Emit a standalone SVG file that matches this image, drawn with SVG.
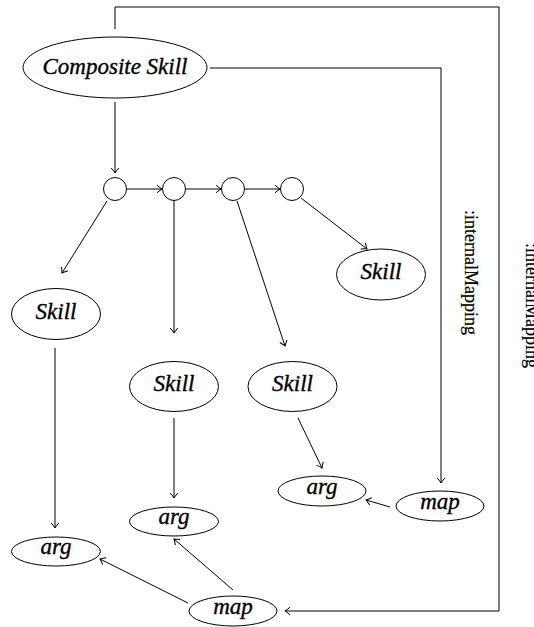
<svg xmlns="http://www.w3.org/2000/svg" width="534" height="627" viewBox="0 0 534 627">
  <style>
    .node { fill: #fff; stroke: #000; stroke-width: 1; }
    .lbl { font-family: "Liberation Serif", "Times New Roman", serif; font-style: italic; font-size: 23px; text-anchor: middle; fill: #000; stroke: #000; stroke-width: 0.35; }
    .edge { fill: none; stroke: #000; stroke-width: 1; marker-end: url(#to); }
    .side { font-family: "Liberation Serif", "Times New Roman", serif; font-size: 18px; fill: #000; stroke: #000; stroke-width: 0.2; }
  </style>
  <defs>
    <marker id="to" markerUnits="userSpaceOnUse" markerWidth="12" markerHeight="12" viewBox="-7 -6 8 12" refX="0" refY="0" orient="auto">
      <path d="M-5,-3.8 Q-1.6,-0.9 0,0 Q-1.6,0.9 -5,3.8" fill="none" stroke="#000" stroke-width="1"/>
    </marker>
  </defs>

  <!-- connectors -->
  <g id="connectors">
    <!-- composite skill to mapping nodes -->
    <polyline class="edge" points="115,29 115,7 499,7 499,611 285,611"/>
    <polyline class="edge" points="210,68 441,68 441,483"/>
    <line class="edge" x1="115" y1="102" x2="115" y2="173"/>
    <!-- sequence of steps -->
    <line class="edge" x1="127" y1="189" x2="162" y2="189"/>
    <line class="edge" x1="186" y1="189" x2="221" y2="189"/>
    <line class="edge" x1="245" y1="189" x2="280" y2="189"/>
    <!-- steps to skills -->
    <line class="edge" x1="107" y1="201" x2="62" y2="273"/>
    <line class="edge" x1="174" y1="201" x2="174" y2="333"/>
    <line class="edge" x1="237" y1="201" x2="285" y2="346"/>
    <line class="edge" x1="301" y1="198" x2="367" y2="249"/>
    <!-- skills to args -->
    <line class="edge" x1="55" y1="348" x2="55" y2="528"/>
    <line class="edge" x1="174" y1="418" x2="174" y2="498"/>
    <line class="edge" x1="298" y1="418" x2="322" y2="468"/>
    <!-- maps to args -->
    <line class="edge" x1="390" y1="507" x2="366" y2="500"/>
    <line class="edge" x1="188" y1="603" x2="100" y2="559"/>
    <line class="edge" x1="233" y1="590" x2="174" y2="539"/>
    <!-- edge labels -->
    <text class="side" transform="translate(465,210) rotate(90)">:internalMapping</text>
    <text class="side" transform="translate(526,243) rotate(90)">:internalMapping</text>
  </g>

  <g id="composite">
    <ellipse class="node" cx="115" cy="67.5" rx="92" ry="30.5"/>
    <text class="lbl" x="115" y="73.5">Composite Skill</text>
  </g>

  <g id="step1"><circle class="node" cx="115" cy="189" r="11.5"/></g>
  <g id="step2"><circle class="node" cx="174" cy="189" r="11.5"/></g>
  <g id="step3"><circle class="node" cx="233" cy="189" r="11.5"/></g>
  <g id="step4"><circle class="node" cx="292" cy="189" r="11.5"/></g>

  <g id="skillA">
    <ellipse class="node" cx="56" cy="314" rx="44.5" ry="25.5"/>
    <text class="lbl" x="56" y="318.5">Skill</text>
  </g>
  <g id="skillB">
    <ellipse class="node" cx="174" cy="386.5" rx="44.5" ry="25"/>
    <text class="lbl" x="174" y="391">Skill</text>
  </g>
  <g id="skillC">
    <ellipse class="node" cx="292.5" cy="386.5" rx="44.5" ry="25"/>
    <text class="lbl" x="292.5" y="391">Skill</text>
  </g>
  <g id="skillD">
    <ellipse class="node" cx="381" cy="274.5" rx="44.5" ry="25.5"/>
    <text class="lbl" x="381" y="279">Skill</text>
  </g>

  <g id="argA">
    <ellipse class="node" cx="56" cy="551.5" rx="44.5" ry="14.5"/>
    <text class="lbl" x="56" y="554">arg</text>
  </g>
  <g id="argB">
    <ellipse class="node" cx="174" cy="521.5" rx="44.5" ry="14.5"/>
    <text class="lbl" x="174" y="524">arg</text>
  </g>
  <g id="argC">
    <ellipse class="node" cx="322" cy="491" rx="44" ry="15"/>
    <text class="lbl" x="322" y="493.5">arg</text>
  </g>

  <g id="mapRight">
    <ellipse class="node" cx="440" cy="506" rx="44" ry="15"/>
    <text class="lbl" x="440" y="508.5">map</text>
  </g>
  <g id="mapBottom">
    <ellipse class="node" cx="233" cy="611" rx="44" ry="15"/>
    <text class="lbl" x="233" y="613.5">map</text>
  </g>
</svg>
